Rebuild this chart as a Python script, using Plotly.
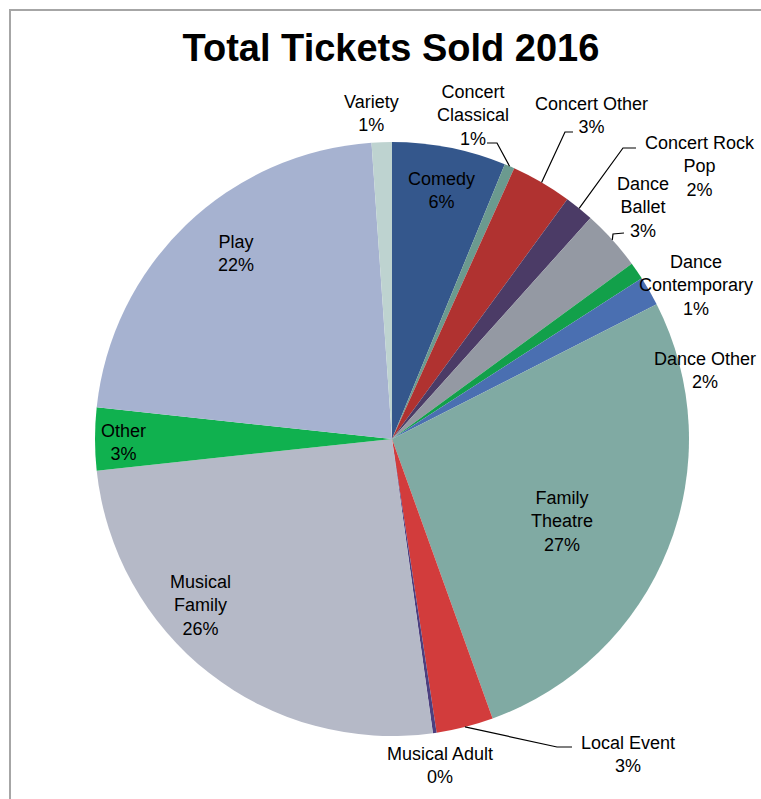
import math
import plotly.graph_objects as go

# ---- data (percent of total tickets sold) ----
categories = ["Comedy", "Concert Classical", "Concert Other", "Concert Rock Pop",
              "Dance Ballet", "Dance Contemporary", "Dance Other", "Family Theatre",
              "Local Event", "Musical Adult", "Musical Family", "Other", "Play", "Variety"]
values = [6.2, 0.55, 3.3, 1.6, 3.3, 0.95, 1.6, 27.0, 3.1, 0.2, 25.5, 3.4, 22.2, 1.1]
label_texts = ["Comedy", "Concert<br>Classical", "Concert Other", "Concert Rock<br>Pop",
               "Dance<br>Ballet", "Dance<br>Contemporary", "Dance Other", "Family<br>Theatre",
               "Local Event", "Musical Adult", "Musical<br>Family", "Other", "Play", "Variety"]
colors = ["#34578c", "#6b9a8f", "#b03230", "#4b3b66", "#9499a3", "#12a04a", "#4a6fb1",
          "#80aaa3", "#d23c3c", "#4c3f7f", "#b5b9c7", "#10b14f", "#a6b2d0", "#bed3d0"]

W, H = 761, 799
CX, CY, R = 392, 439, 297  # pie placement in pixels
FONT = "Liberation Sans, Arial, sans-serif"


def px(x):
    return x / W


def py(y):
    return 1 - y / H


fig = go.Figure()
fig.add_trace(go.Pie(
    labels=categories, values=values, sort=False, direction="clockwise", rotation=0,
    marker=dict(colors=colors, line=dict(width=0)),
    textinfo="none", hoverinfo="label+percent", showlegend=False,
    domain=dict(x=[px(CX - R), px(CX + R)], y=[py(CY + R), py(CY - R)]),
))

total = sum(values)
pcts = [v / total for v in values]

# label centre positions (pixels) for each category
label_pos = {
    "Comedy": (441, 191),
    "Concert Classical": (473, 115),
    "Concert Other": (591, 116),
    "Concert Rock Pop": (700, 167),
    "Dance Ballet": (643, 207),
    "Dance Contemporary": (696, 285),
    "Dance Other": (705, 370),
    "Family Theatre": (562, 521),
    "Local Event": (628, 754),
    "Musical Adult": (440, 765),
    "Musical Family": (200, 605),
    "Other": (123, 442),
    "Play": (236, 253),
    "Variety": (371, 114),
}

annotations = []
for cat, txt, p in zip(categories, label_texts, pcts):
    x, y = label_pos[cat]
    annotations.append(dict(
        x=px(x), y=py(y), xref="paper", yref="paper", xanchor="center", yanchor="middle",
        text=f"{txt}<br>{round(p * 100):d}%", showarrow=False,
        font=dict(family=FONT, size=18, color="#000000"),
    ))

# leader lines: from label (start, elbow) to slice rim at mid-angle
leaders = {
    "Concert Classical": [(487, 143), (497, 143)],
    "Concert Other": [(573, 132), (565, 132)],
    "Concert Rock Pop": [(636, 148), (623, 148)],
    "Dance Ballet": [(624, 233), (613, 234)],
    "Local Event": [(572, 747), (557, 747)],
}
shapes = []
cum = 0.0
mid_angle = {}
for cat, p in zip(categories, pcts):
    mid_angle[cat] = (cum + p / 2) * 2 * math.pi
    cum += p
for cat, pts in leaders.items():
    a = mid_angle[cat]
    rx = CX + R * math.sin(a)
    ry = CY - R * math.cos(a)
    allp = pts + [(rx, ry)]
    path = "M " + " L ".join(f"{px(x):.5f},{py(y):.5f}" for x, y in allp)
    shapes.append(dict(type="path", path=path, xref="paper", yref="paper",
                       line=dict(color="#000000", width=1.2)))

# chart frame
shapes.append(dict(type="rect", xref="paper", yref="paper",
                   x0=px(10), x1=1.2, y0=-0.2, y1=py(10),
                   line=dict(color="#a6a6a6", width=2), fillcolor="rgba(0,0,0,0)"))

fig.update_layout(
    width=W, height=H,
    margin=dict(l=0, r=0, t=0, b=0),
    paper_bgcolor="white", plot_bgcolor="white",
    title=dict(text="<b>Total Tickets Sold 2016</b>", x=px(391), y=py(48),
               xref="paper", yref="paper", xanchor="center", yanchor="middle",
               font=dict(family=FONT, size=38, color="#000000")),
    annotations=annotations,
    shapes=shapes,
)

fig.write_html("out.html",
               config={"displayModeBar": False},
               post_script="document.body.style.margin='0';document.body.style.overflow='hidden';")
